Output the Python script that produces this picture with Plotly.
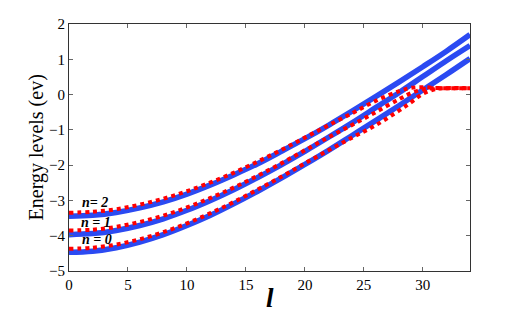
import plotly.graph_objects as go

# orbital angular momentum l
l_blue = [0, 2, 4, 6, 8, 10, 12, 14, 16, 18, 20, 22, 24, 26, 28, 30, 32, 34]
blue_n0 = [-4.47, -4.44, -4.34, -4.18, -3.97, -3.71, -3.42, -3.09, -2.74, -2.37,
           -1.98, -1.58, -1.16, -0.74, -0.31, 0.13, 0.57, 1.02]
blue_n1 = [-3.97, -3.94, -3.85, -3.71, -3.52, -3.28, -3.00, -2.69, -2.35, -1.99,
           -1.61, -1.21, -0.80, -0.37, 0.06, 0.51, 0.96, 1.39]
blue_n2 = [-3.45, -3.42, -3.34, -3.21, -3.04, -2.82, -2.56, -2.27, -1.96, -1.61,
           -1.25, -0.87, -0.47, -0.06, 0.36, 0.79, 1.23, 1.70]

l_red = [0, 2, 4, 6, 8, 10, 12, 14, 16, 18, 20, 22, 24, 26, 28, 29, 30, 31, 32, 34]
red_n0 = [-4.37, -4.34, -4.25, -4.10, -3.90, -3.65, -3.36, -3.04, -2.69, -2.33,
          -1.95, -1.58, -1.22, -0.87, -0.45, -0.22, 0.02, 0.15, 0.18, 0.18]
red_n1 = [-3.85, -3.83, -3.75, -3.61, -3.43, -3.20, -2.93, -2.63, -2.30, -1.95,
          -1.58, -1.21, -0.86, -0.50, -0.13, 0.04, 0.15, 0.18, 0.18, 0.18]
red_n2 = [-3.35, -3.32, -3.25, -3.12, -2.95, -2.74, -2.49, -2.21, -1.90, -1.57,
          -1.22, -0.87, -0.53, -0.18, 0.10, 0.19, 0.21, 0.19, 0.18, 0.18]

labels = ["n = 0", "n = 1", "n= 2"]
label_x = [2.4, 2.3, 2.2]
label_y = [-4.12, -3.63, -3.07]

BLUE = "#2b4af2"
RED = "#ff0000"
FONT = "Liberation Serif"

fig = go.Figure()
for ys in (blue_n0, blue_n1, blue_n2):
    fig.add_trace(go.Scatter(x=l_blue, y=ys, mode="lines", line_shape="spline",
                             line=dict(color=BLUE, width=5.5), showlegend=False))
for ys in (red_n0, red_n1, red_n2):
    fig.add_trace(go.Scatter(x=l_red, y=ys, mode="lines", line_shape="spline",
                             line=dict(color=RED, width=4, dash="dot"), showlegend=False))

for txt, lx, ly in zip(labels, label_x, label_y):
    fig.add_annotation(x=lx, y=ly, text="<b><i>%s</i></b>" % txt, showarrow=False,
                       font=dict(family=FONT, size=14, color="black"))

# axis titles as paper annotations so the margins stay fixed
fig.add_annotation(xref="paper", yref="paper", x=-0.08, y=0.5, text="Energy levels (ev)",
                   textangle=-90, showarrow=False, xanchor="center", yanchor="middle",
                   font=dict(family=FONT, size=20, color="black"))
fig.add_annotation(xref="paper", yref="paper", x=0.5, y=-0.11, text="<b><i>l</i></b>",
                   showarrow=False, xanchor="center", yanchor="middle",
                   font=dict(family=FONT, size=27, color="black"))

axis_common = dict(showline=True, linecolor="#333333", linewidth=1, mirror="ticks",
                   ticks="inside", ticklen=4, tickcolor="#666666", showgrid=False,
                   zeroline=False, automargin=False,
                   tickfont=dict(family=FONT, size=15, color="black"))

fig.update_xaxes(range=[0, 34], dtick=5, tick0=0, **axis_common)
fig.update_yaxes(range=[-5, 2], dtick=1, tick0=0, **axis_common)

# page body has an 8px margin, so the figure is a bit smaller and shifted
fig.update_layout(
    width=510, height=308,
    margin=dict(l=61, r=48, t=16, b=45),
    plot_bgcolor="white", paper_bgcolor="white",
)

fig.write_html("out.html")
